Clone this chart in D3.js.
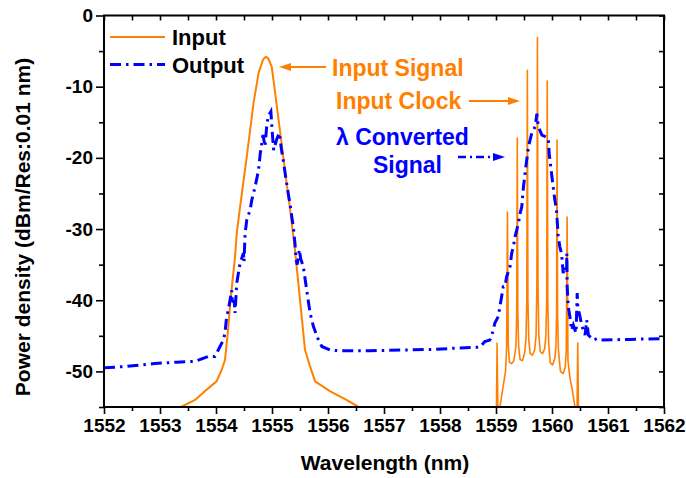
<!DOCTYPE html>
<html>
<head>
<meta charset="utf-8">
<script src="https://cdn.jsdelivr.net/npm/d3@7"></script>
<style>
  html, body { margin: 0; padding: 0; background: #fff; }
  svg { display: block; font-family: "Liberation Sans", Arial, sans-serif; font-weight: bold; }
</style>
</head>
<body>
<svg id="chart" width="686" height="478"></svg>
<script>
// Output spectrum (converted signal), wavelength in nm / power in dBm
const outputWavelength = [
  1552.00, 1552.40, 1552.90, 1553.30, 1553.62, 1553.86, 1553.98, 1554.04, 1554.13, 1554.16,
  1554.19, 1554.22, 1554.28, 1554.29, 1554.33, 1554.34, 1554.37, 1554.43, 1554.49, 1554.50,
  1554.52, 1554.55, 1554.61, 1554.64, 1554.70, 1554.76, 1554.79, 1554.84, 1554.875, 1554.905,
  1554.93, 1554.98, 1555.01, 1555.03, 1555.08, 1555.13, 1555.17, 1555.20, 1555.26, 1555.29,
  1555.32, 1555.38, 1555.41, 1555.43, 1555.45, 1555.49, 1555.51, 1555.56, 1555.62, 1555.68,
  1555.74, 1555.83, 1555.89, 1556.04, 1556.21, 1556.75, 1557.30, 1557.90, 1558.36, 1558.71,
  1558.80, 1558.89, 1558.92, 1558.98, 1559.04, 1559.07, 1559.10, 1559.13, 1559.16, 1559.19,
  1559.25, 1559.28, 1559.31, 1559.34, 1559.40, 1559.43, 1559.46, 1559.49, 1559.54, 1559.58,
  1559.64, 1559.70, 1559.73, 1559.755, 1559.82, 1559.875, 1559.935, 1559.95, 1559.99, 1560.05,
  1560.08, 1560.10, 1560.11, 1560.14, 1560.17, 1560.20, 1560.23, 1560.26, 1560.265, 1560.27,
  1560.29, 1560.32, 1560.35, 1560.38, 1560.43, 1560.45, 1560.46, 1560.50, 1560.53, 1560.59,
  1560.62, 1560.65, 1560.74, 1560.80, 1560.86, 1561.39, 1561.93
];
const outputPower = [
  -49.5, -49.3, -48.9, -48.7, -48.6, -47.9, -47.9, -47.0, -45.6, -44.6,
  -42.3, -41.4, -38.6, -40.0, -40.4, -41.8, -37.6, -34.8, -33.4, -34.6,
  -30.6, -28.7, -27.3, -25.9, -24.0, -21.7, -19.4, -16.8, -18.4, -15.6,
  -14.2, -13.5, -17.0, -18.9, -17.5, -16.5, -18.9, -20.3, -23.5, -25.0,
  -26.4, -29.7, -32.0, -34.3, -35.0, -32.9, -34.1, -35.3, -38.6, -41.8,
  -43.7, -45.6, -46.5, -47.0, -47.1, -47.1, -47.0, -46.9, -46.7, -46.6,
  -45.8, -45.6, -45.1, -43.2, -42.3, -40.9, -39.5, -38.1, -38.1, -36.7,
  -35.3, -33.4, -32.5, -31.1, -29.2, -27.8, -26.9, -24.1, -20.8, -18.4,
  -16.5, -15.6, -13.8, -15.6, -16.8, -17.0, -17.3, -19.4, -22.1, -25.9,
  -27.3, -29.7, -31.0, -32.5, -33.4, -36.2, -35.3, -36.0, -33.4, -38.0,
  -40.9, -42.3, -44.2, -43.5, -44.6, -39.0, -40.9, -42.3, -43.5, -44.9,
  -42.8, -44.9, -45.6, -45.4, -45.6, -45.5, -45.4
];

// Input spectrum, signal band
const inputSignalWavelength = [
  1553.375, 1553.625, 1553.80, 1554.01, 1554.10, 1554.16, 1554.21, 1554.25, 1554.29, 1554.34,
  1554.37, 1554.43, 1554.55, 1554.67, 1554.76, 1554.84, 1554.89, 1554.93, 1554.995, 1555.05,
  1555.11, 1555.17, 1555.23, 1555.31, 1555.41, 1555.47, 1555.53, 1555.59, 1555.68, 1555.77,
  1556.04, 1556.33, 1556.57
];
const inputSignalPower = [
  -55.0, -54.0, -52.8, -51.4, -49.8, -48.4, -44.6, -40.9, -37.6, -33.9,
  -30.6, -26.9, -19.8, -12.3, -8.1, -6.2, -5.8, -6.0, -7.2, -10.5,
  -14.2, -17.9, -21.7, -26.4, -32.9, -37.6, -42.3, -47.0, -49.3, -51.4,
  -52.8, -54.0, -55.1
];

// Input spectrum, clock band (comb lines)
const inputClockWavelength = [
  1559.005, 1559.02, 1559.035, 1559.07, 1559.12, 1559.17, 1559.19, 1559.205, 1559.22, 1559.24,
  1559.28, 1559.32, 1559.355, 1559.37, 1559.38, 1559.39, 1559.405, 1559.43, 1559.47, 1559.51,
  1559.535, 1559.55, 1559.56, 1559.57, 1559.585, 1559.61, 1559.65, 1559.69, 1559.715, 1559.73,
  1559.74, 1559.75, 1559.765, 1559.79, 1559.83, 1559.87, 1559.89, 1559.905, 1559.915, 1559.925,
  1559.94, 1559.97, 1560.01, 1560.05, 1560.07, 1560.082, 1560.09, 1560.10, 1560.115, 1560.15,
  1560.20, 1560.235, 1560.255, 1560.27, 1560.285, 1560.32, 1560.36, 1560.41, 1560.445, 1560.46,
  1560.475
];
const inputClockPower = [
  -57.0, -46.0, -57.0, -55.0, -52.5, -50.0, -46.5, -27.6, -46.5, -48.7,
  -48.9, -48.5, -46.5, -42.0, -17.2, -42.0, -46.5, -48.3, -48.5, -47.5,
  -45.5, -40.0, -7.7, -40.0, -45.5, -47.5, -47.7, -47.0, -45.0, -38.0,
  -3.1, -38.0, -45.0, -47.2, -47.5, -46.8, -45.0, -40.0, -9.2, -40.0,
  -46.0, -48.8, -49.1, -48.2, -46.5, -42.0, -17.5, -42.0, -47.0, -50.0,
  -50.3, -49.5, -47.0, -28.3, -48.5, -50.9, -52.5, -55.0, -57.0, -46.0,
  -57.0
];

// Axis ticks
const xMajorTicks = [1552, 1553, 1554, 1555, 1556, 1557, 1558, 1559, 1560, 1561, 1562];
const xMinorTicks = [1552.5, 1553.5, 1554.5, 1555.5, 1556.5, 1557.5, 1558.5, 1559.5, 1560.5, 1561.5];
const yMajorTicks = [0, -10, -20, -30, -40, -50];
const yMinorTicks = [-5, -15, -25, -35, -45, -55];

const ORANGE = "#ff8000";
const BLUE = "#0000ff";
const DASHDOT = "11,5,2.5,5";

const margin = { left: 104, right: 22, top: 15.5, bottom: 71 };
const W = 686, H = 478;
const svg = d3.select("#chart");

const x = d3.scaleLinear().domain([1552, 1562]).range([margin.left, W - margin.right]);
const y = d3.scaleLinear().domain([-55, 0]).range([H - margin.bottom, margin.top]);

const x0 = x.range()[0], x1 = x.range()[1], y0 = y.range()[0], y1 = y.range()[1];

svg.append("defs").append("clipPath").attr("id", "plot-clip")
  .append("rect").attr("x", x0).attr("y", y1).attr("width", x1 - x0).attr("height", y0 - y1);

const line = d3.line().x(d => x(d[0])).y(d => y(d[1]));
const zip = (a, b) => a.map((v, i) => [v, b[i]]);

const plot = svg.append("g").attr("clip-path", "url(#plot-clip)");

plot.append("path").datum(zip(inputSignalWavelength, inputSignalPower))
  .attr("d", line).attr("fill", "none").attr("stroke", ORANGE)
  .attr("stroke-width", 2).attr("stroke-linejoin", "round");
plot.append("path").datum(zip(inputClockWavelength, inputClockPower))
  .attr("d", line).attr("fill", "none").attr("stroke", ORANGE)
  .attr("stroke-width", 1.6).attr("stroke-linejoin", "round");
plot.append("path").datum(zip(outputWavelength, outputPower))
  .attr("d", line).attr("fill", "none").attr("stroke", BLUE)
  .attr("stroke-width", 3).attr("stroke-dasharray", DASHDOT);

// Axes (plain hyphen for negative labels)
const plainFormat = d => String(d);
function styleAxis(g) {
  g.select(".domain").remove();
  g.selectAll(".tick line").attr("stroke", "#000").attr("stroke-width", 1.6);
  g.selectAll(".tick text").attr("fill", "#000").attr("font-size", 19)
    .attr("font-weight", "bold").attr("font-family", "Liberation Sans, Arial, sans-serif");
}

svg.append("g").attr("transform", `translate(0,${y0})`)
  .call(d3.axisBottom(x).tickValues(xMajorTicks).tickSize(7).tickPadding(5).tickFormat(plainFormat))
  .call(styleAxis);
svg.append("g").attr("transform", `translate(0,${y0})`)
  .call(d3.axisBottom(x).tickValues(xMinorTicks).tickSize(4).tickFormat(""))
  .call(styleAxis);
svg.append("g").attr("transform", `translate(${x0},0)`)
  .call(d3.axisLeft(y).tickValues(yMajorTicks).tickSize(8).tickPadding(3).tickFormat(plainFormat))
  .call(styleAxis);
svg.append("g").attr("transform", `translate(${x0},0)`)
  .call(d3.axisLeft(y).tickValues(yMinorTicks).tickSize(5).tickFormat(""))
  .call(styleAxis);
// inward ticks on top and right
svg.append("g").attr("transform", `translate(0,${y1})`)
  .call(d3.axisTop(x).tickValues(xMajorTicks.concat(xMinorTicks)).tickSize(-5).tickFormat(""))
  .call(styleAxis);
svg.append("g").attr("transform", `translate(${x1},0)`)
  .call(d3.axisRight(y).tickValues(yMajorTicks.concat(yMinorTicks)).tickSize(-5).tickFormat(""))
  .call(styleAxis);

// frame
svg.append("rect").attr("x", x0).attr("y", y1).attr("width", x1 - x0).attr("height", y0 - y1)
  .attr("fill", "none").attr("stroke", "#000").attr("stroke-width", 2);

// axis titles
svg.append("text").attr("x", (x0 + x1) / 2 + 1).attr("y", 470).attr("text-anchor", "middle")
  .attr("font-size", 21).text("Wavelength (nm)");
svg.append("text").attr("transform", "translate(30,227) rotate(-90)").attr("text-anchor", "middle")
  .attr("font-size", 21).text("Power density (dBm/Res:0.01 nm)");

// legend
const legend = svg.append("g");
legend.append("line").attr("x1", 110).attr("x2", 165).attr("y1", 37).attr("y2", 37)
  .attr("stroke", ORANGE).attr("stroke-width", 2);
legend.append("text").attr("x", 172).attr("y", 45).attr("font-size", 22).text("Input");
legend.append("line").attr("x1", 110).attr("x2", 165).attr("y1", 64.5).attr("y2", 64.5)
  .attr("stroke", BLUE).attr("stroke-width", 3).attr("stroke-dasharray", DASHDOT);
legend.append("text").attr("x", 172).attr("y", 72.5).attr("font-size", 22).text("Output");

// annotations
function arrow(g, xa, xb, yy, color, dashed) {
  // line from xa to xb, head at xb
  const dir = Math.sign(xb - xa);
  g.append("line").attr("x1", xa).attr("x2", xb - dir * 10).attr("y1", yy).attr("y2", yy)
    .attr("stroke", color).attr("stroke-width", dashed ? 2.5 : 2)
    .attr("stroke-dasharray", dashed ? "8,4,2,4" : null);
  g.append("path").attr("d", `M${xb},${yy} L${xb - dir * 12},${yy - 4} L${xb - dir * 12},${yy + 4} Z`)
    .attr("fill", color);
}
const notes = svg.append("g");
notes.append("text").attr("x", 332).attr("y", 76).attr("font-size", 23).attr("fill", ORANGE).text("Input Signal");
arrow(notes, 326, 279, 67, ORANGE, false);
notes.append("text").attr("x", 336).attr("y", 108.5).attr("font-size", 23).attr("fill", ORANGE).text("Input Clock");
arrow(notes, 469, 520, 101, ORANGE, false);
notes.append("text").attr("x", 336).attr("y", 145).attr("font-size", 23).attr("fill", BLUE).text("λ Converted");
notes.append("text").attr("x", 373).attr("y", 172.5).attr("font-size", 23).attr("fill", BLUE).text("Signal");
arrow(notes, 458, 505, 157, BLUE, true);
</script>
</body>
</html>
